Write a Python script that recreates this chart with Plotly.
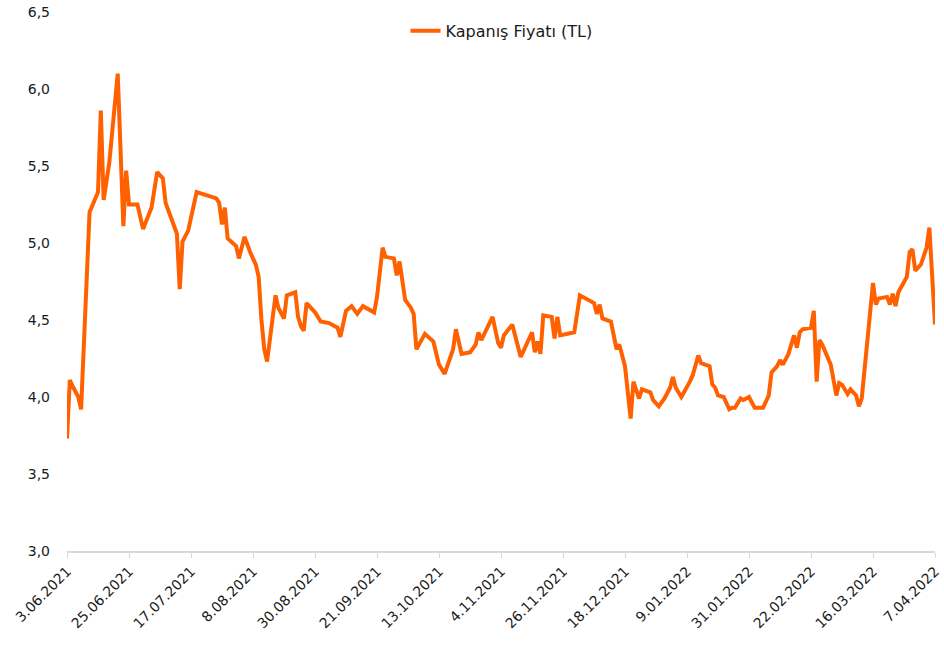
import pandas as pd
import plotly.graph_objects as go

start_date = "2021-06-03"
end_date = "2022-04-07"

# day offsets from 3.06.2021 and closing prices (TL)
day_offsets = [0, 1, 2, 4, 5, 8, 11, 12, 13, 15, 18, 20, 21, 22, 25, 27, 30, 32, 34, 35,
               39, 40, 41, 43, 46, 53, 54, 55, 56, 57, 60, 61, 63, 65, 67, 68, 69, 70, 71, 74,
               75, 77, 78, 81, 82, 83, 84, 85, 88, 90, 93, 96, 97, 99, 101, 103, 105, 109, 110, 112,
               113, 116, 117, 118, 120, 122, 123, 124, 127, 130, 132, 134, 137, 138, 140, 143, 145, 146, 147, 151,
               153, 154, 155, 158, 161, 165, 166, 167, 168, 169, 172, 173, 174, 175, 180, 182, 187, 188, 189, 190,
               193, 195, 196, 198, 200, 201, 203, 204, 207, 208, 210, 212, 214, 215, 216, 218, 221, 222, 224, 225,
               228, 229, 230, 231, 233, 235, 236, 237, 239, 240, 242, 244, 247, 249, 250, 252, 253, 254, 256, 258,
               259, 260, 261, 264, 265, 266, 267, 268, 271, 273, 274, 275, 277, 278, 280, 281, 282, 286, 287, 288,
               291, 292, 293, 294, 295, 298, 299, 300, 301, 303, 305, 306, 308]
close_prices = [3.73, 4.11, 4.07, 4.00, 3.92, 5.20, 5.33, 5.86, 5.28, 5.52, 6.10, 5.11, 5.47, 5.25, 5.25, 5.09, 5.23, 5.46, 5.42, 5.26,
                5.06, 4.70, 5.01, 5.08, 5.33, 5.29, 5.26, 5.12, 5.23, 5.03, 4.98, 4.90, 5.04, 4.94, 4.86, 4.78, 4.50, 4.31, 4.23, 4.66,
                4.58, 4.51, 4.66, 4.68, 4.52, 4.46, 4.43, 4.61, 4.55, 4.49, 4.48, 4.45, 4.39, 4.56, 4.59, 4.54, 4.59, 4.55, 4.65, 4.97,
                4.91, 4.90, 4.79, 4.88, 4.63, 4.58, 4.54, 4.31, 4.41, 4.36, 4.21, 4.15, 4.31, 4.44, 4.28, 4.29, 4.34, 4.42, 4.37, 4.52,
                4.35, 4.32, 4.40, 4.47, 4.26, 4.42, 4.29, 4.36, 4.28, 4.53, 4.52, 4.38, 4.52, 4.40, 4.42, 4.66, 4.61, 4.54, 4.60, 4.51,
                4.49, 4.31, 4.34, 4.20, 3.86, 4.10, 3.99, 4.05, 4.03, 3.98, 3.94, 3.99, 4.06, 4.13, 4.06, 4.00, 4.10, 4.14, 4.27, 4.22,
                4.20, 4.08, 4.06, 4.01, 4.00, 3.92, 3.93, 3.93, 3.99, 3.98, 4.00, 3.93, 3.93, 4.01, 4.16, 4.20, 4.24, 4.21, 4.28, 4.40,
                4.32, 4.42, 4.44, 4.45, 4.56, 4.10, 4.37, 4.34, 4.21, 4.01, 4.09, 4.08, 4.02, 4.05, 4.01, 3.94, 3.99, 4.74, 4.60, 4.64,
                4.65, 4.60, 4.67, 4.59, 4.68, 4.78, 4.94, 4.96, 4.82, 4.86, 4.97, 5.10, 4.47]

y_ticks = [3.0, 3.5, 4.0, 4.5, 5.0, 5.5, 6.0, 6.5]
tick_step_days = 22
series_name = "Kapanış Fiyatı (TL)"

dates = pd.to_datetime(start_date) + pd.to_timedelta(day_offsets, unit="D")

fig = go.Figure()
fig.add_trace(go.Scatter(
    x=dates, y=close_prices, mode="lines", name=series_name,
    line=dict(color="#FF6100", width=4),
))

font_family = "DejaVu Sans, Noto Sans, sans-serif"
fig.update_layout(
    width=944, height=646,
    margin=dict(l=67, r=9, t=12, b=95, autoexpand=False),
    paper_bgcolor="white", plot_bgcolor="white",
    separators=", ",
    font=dict(family=font_family, size=14, color="#1a1a1a"),
    showlegend=True,
    legend=dict(x=0.39, y=0.965, xanchor="left", yanchor="middle",
                font=dict(size=16, color="#1a1a1a"), bgcolor="rgba(0,0,0,0)"),
    xaxis=dict(
        type="date", automargin=False,
        range=[start_date, end_date],
        tick0=start_date, dtick=tick_step_days * 86400000,
        tickformat="%-d.%m.%Y", tickangle=-45,
        showgrid=False, zeroline=False,
        showline=True, linecolor="#d9d9d9", linewidth=1.5,
        ticks="outside", ticklen=5, tickcolor="#d9d9d9",
        tickfont=dict(size=14, color="#1a1a1a"),
    ),
    yaxis=dict(
        automargin=False,
        range=[3.0, 6.5], tickvals=y_ticks, tickformat=".1f",
        showgrid=False, zeroline=False, showline=False,
        ticks="", ticklabelstandoff=16,
        tickfont=dict(size=14, color="#1a1a1a"),
    ),
)

fig.write_html(
    "out.html",
    config={"displayModeBar": False},
    post_script="document.body.style.margin='0px';document.body.style.overflow='hidden';",
)
